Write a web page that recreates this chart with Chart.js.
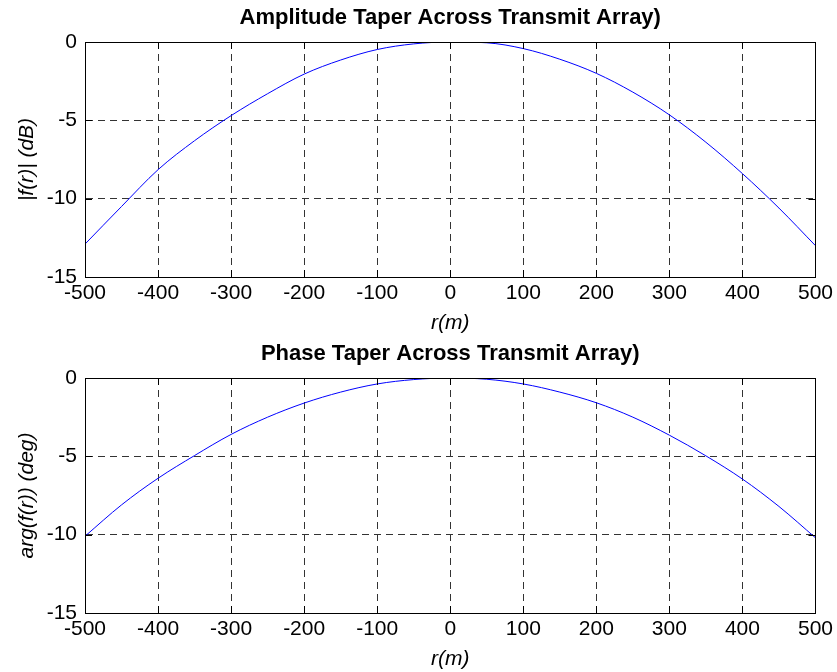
<!DOCTYPE html>
<html>
<head>
<meta charset="utf-8">
<script src="https://cdn.jsdelivr.net/npm/chart.js@4/dist/chart.umd.min.js"></script>
<style>
  html, body { margin: 0; padding: 0; background: #fff; }
  .wrap { position: absolute; left: 0; width: 837px; height: 336px; }
  #top { top: 0; }
  #bottom { top: 336px; }
</style>
</head>
<body>
<div class="wrap" id="top"><canvas id="ampChart"></canvas></div>
<div class="wrap" id="bottom"><canvas id="phaseChart"></canvas></div>
<script>
// r positions (m)
const rValues = [-500, -450, -400, -350, -300, -250, -200, -150, -100, -50, 0,
                 50, 100, 150, 200, 250, 300, 350, 400, 450, 500];

// |f(r)| in dB
const ampDb = [-12.9, -10.5, -8.15, -6.3, -4.7, -3.3, -2.05, -1.15, -0.48, -0.12, 0,
               -0.05, -0.42, -1.1, -2.0, -3.2, -4.65, -6.4, -8.4, -10.6, -13.0];

// arg(f(r)) in deg
const phaseDeg = [-10.1, -8.1, -6.4, -4.95, -3.6, -2.5, -1.6, -0.9, -0.38, -0.1, 0,
                  -0.08, -0.38, -0.9, -1.58, -2.5, -3.65, -4.97, -6.45, -8.2, -10.2];

const xTicks = [-500, -400, -300, -200, -100, 0, 100, 200, 300, 400, 500];
const yTicks = [-15, -10, -5, 0];

const FONT = "'Liberation Sans', Arial, sans-serif";

// box round the axes plus MATLAB style inward tick marks
const boxPlugin = {
  id: "axesBox",
  afterDraw(chart) {
    const { ctx, chartArea: a, scales } = chart;
    ctx.save();
    ctx.strokeStyle = "#000";
    ctx.lineWidth = 1;
    ctx.setLineDash([]);
    ctx.strokeRect(Math.round(a.left) + 0.5, Math.round(a.top) + 0.5,
                   Math.round(a.right - a.left), Math.round(a.bottom - a.top));
    ctx.beginPath();
    xTicks.forEach(v => {
      const px = Math.round(scales.x.getPixelForValue(v)) + 0.5;
      ctx.moveTo(px, a.bottom); ctx.lineTo(px, a.bottom - 7);
      ctx.moveTo(px, a.top); ctx.lineTo(px, a.top + 7);
    });
    yTicks.forEach(v => {
      const py = Math.round(scales.y.getPixelForValue(v)) + 0.5;
      ctx.moveTo(a.left, py); ctx.lineTo(a.left + 7, py);
      ctx.moveTo(a.right, py); ctx.lineTo(a.right - 7, py);
    });
    ctx.stroke();
    ctx.restore();
  }
};

function makeChart(canvasId, titleText, yLabel, values) {
  return new Chart(document.getElementById(canvasId), {
    type: "line",
    data: {
      labels: rValues,
      datasets: [{
        data: rValues.map((r, i) => ({ x: r, y: values[i] })),
        borderColor: "#0000ff",
        borderWidth: 1,
        pointRadius: 0,
        cubicInterpolationMode: "monotone",
        fill: false
      }]
    },
    options: {
      responsive: true,
      maintainAspectRatio: false,
      animation: false,
      layout: { padding: { left: 0, right: 21, top: 0, bottom: 0 } },
      plugins: {
        legend: { display: false },
        tooltip: { enabled: false },
        title: {
          display: true,
          text: titleText,
          fullSize: false,
          color: "#000",
          font: { family: FONT, size: 22, weight: "bold", lineHeight: 1.2 },
          padding: { top: 5, bottom: 10.6 }
        }
      },
      scales: {
        x: {
          type: "linear",
          min: -500,
          max: 500,
          afterBuildTicks: s => { s.ticks = xTicks.map(v => ({ value: v })); },
          afterFit: s => { s.height = 59; },
          ticks: { color: "#000", padding: 4, maxRotation: 0, autoSkip: false,
                   font: { family: FONT, size: 21 } },
          grid: { color: "#333", lineWidth: 1, drawTicks: false },
          border: { display: true, color: "#000", dash: [7, 5] },
          title: {
            display: true,
            text: "r(m)",
            color: "#000",
            font: { family: FONT, size: 21, style: "italic" },
            padding: { top: 0, bottom: 0.5 }
          }
        },
        y: {
          min: -15,
          max: 0,
          afterBuildTicks: s => { s.ticks = yTicks.map(v => ({ value: v })); },
          afterFit: s => { s.width = 85; },
          ticks: { color: "#000", padding: 8, font: { family: FONT, size: 21 } },
          grid: { color: "#333", lineWidth: 1, drawTicks: false },
          border: { display: true, color: "#000", dash: [7, 5] },
          title: {
            display: true,
            text: yLabel,
            color: "#000",
            font: { family: FONT, size: 21, style: "italic" },
            padding: { top: 14.5, bottom: 0 }
          }
        }
      }
    },
    plugins: [boxPlugin]
  });
}

const ampChart = makeChart("ampChart", "Amplitude Taper Across Transmit Array)", "|f(r)| (dB)", ampDb);
const phaseChart = makeChart("phaseChart", "Phase Taper Across Transmit Array)", "arg(f(r)) (deg)", phaseDeg);
</script>
</body>
</html>
